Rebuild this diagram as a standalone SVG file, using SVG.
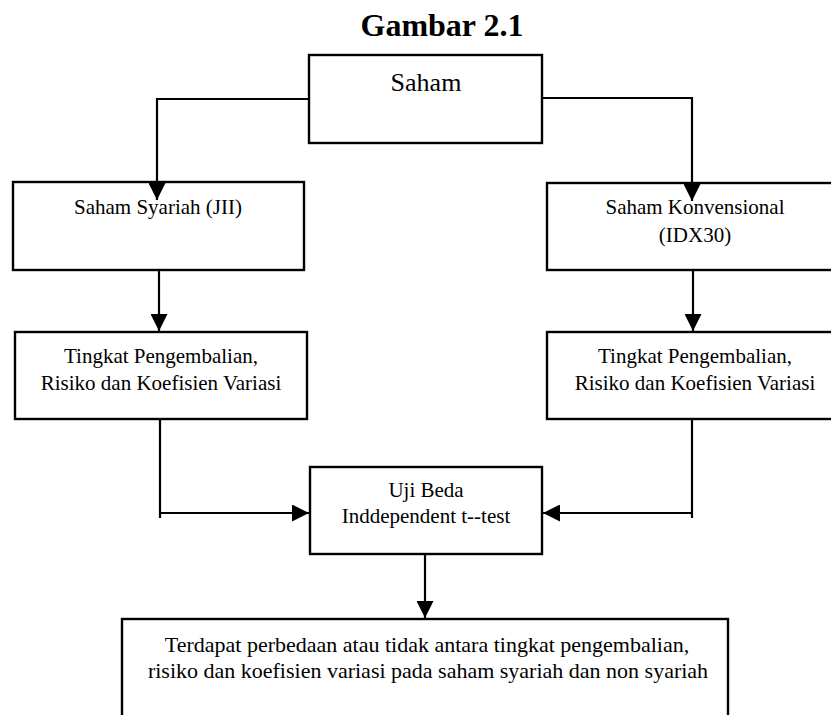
<svg xmlns="http://www.w3.org/2000/svg" width="831" height="715" viewBox="0 0 831 715">
<defs>
<style>
.box{fill:#fff;stroke:#000;stroke-width:2.4}
.ln{fill:none;stroke:#000;stroke-width:2.2}
text{font-family:'Liberation Serif',Tinos,'Times New Roman',Times,'Noto Serif','DejaVu Serif',serif;fill:#000;text-anchor:middle}
.t{font-size:21px}
.t2{font-size:22px}
.big{font-size:26px}
.title{font-size:32px;font-weight:bold}
</style>
<marker id="ah" markerUnits="userSpaceOnUse" markerWidth="17" markerHeight="17" viewBox="0 0 16 16" refX="16" refY="8" orient="auto">
<path d="M0,0 L16,8 L0,16 Z" fill="#000"/>
</marker>
</defs>
<rect width="831" height="715" fill="#fff"/>
<text class="title" x="442" y="36">Gambar 2.1</text>

<g id="saham">
<rect class="box" x="309" y="55" width="233" height="88"/>
<text class="big" x="426" y="91">Saham</text>
</g>

<g id="syariah">
<rect class="box" x="13" y="182" width="291" height="88"/>
<text class="t" x="158" y="214">Saham Syariah (JII)</text>
</g>

<g id="konvensional">
<rect class="box" x="547" y="183" width="300" height="87"/>
<text class="t" x="695" y="214">Saham Konvensional</text>
<text class="t" x="695" y="242">(IDX30)</text>
</g>

<g id="tp-left">
<rect class="box" x="15" y="332" width="292" height="87"/>
<text class="t" x="161" y="363">Tingkat Pengembalian,</text>
<text class="t" x="161" y="390">Risiko dan Koefisien Variasi</text>
</g>

<g id="tp-right">
<rect class="box" x="547" y="332" width="300" height="87"/>
<text class="t" x="695" y="363">Tingkat Pengembalian,</text>
<text class="t" x="695" y="390">Risiko dan Koefisien Variasi</text>
</g>

<g id="uji">
<rect class="box" x="310" y="467" width="232" height="87"/>
<text class="t" x="426" y="497">Uji Beda</text>
<text class="t" x="426" y="523">Inddependent t--test</text>
</g>

<g id="hasil">
<rect class="box" x="122" y="619" width="606" height="120"/>
<text class="t2" x="427" y="652">Terdapat perbedaan atau tidak antara tingkat pengembalian,</text>
<text class="t2" x="428" y="678">risiko dan koefisien variasi pada saham syariah dan non syariah</text>
</g>

<g id="connectors">
<polyline class="ln" points="309,99 157,99 157,200" marker-end="url(#ah)"/>
<polyline class="ln" points="542,98 692,98 692,201" marker-end="url(#ah)"/>
<line class="ln" x1="159" y1="270" x2="159" y2="331" marker-end="url(#ah)"/>
<line class="ln" x1="693" y1="270" x2="693" y2="331" marker-end="url(#ah)"/>
<line class="ln" x1="160" y1="419" x2="160" y2="518"/>
<line class="ln" x1="160" y1="513" x2="309" y2="513" marker-end="url(#ah)"/>
<line class="ln" x1="692" y1="419" x2="692" y2="518"/>
<line class="ln" x1="692" y1="513" x2="543" y2="513" marker-end="url(#ah)"/>
<line class="ln" x1="425" y1="554" x2="425" y2="618" marker-end="url(#ah)"/>
</g>
</svg>
